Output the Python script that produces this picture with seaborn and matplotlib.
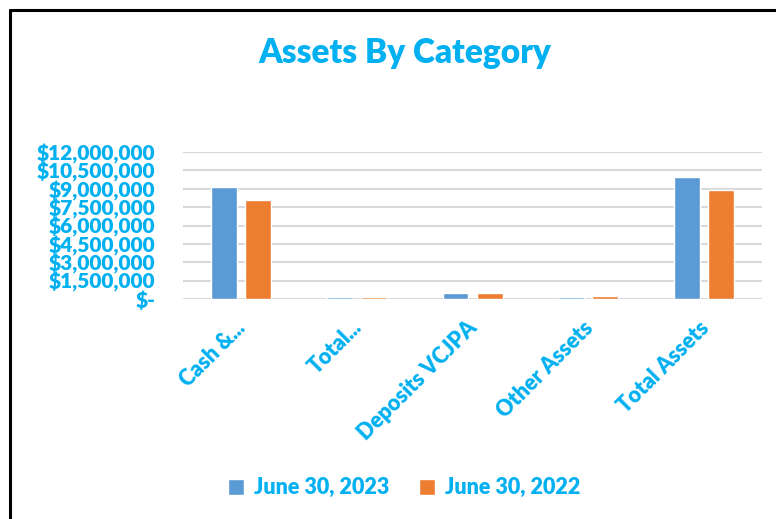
import matplotlib
matplotlib.use("Agg")
import matplotlib.pyplot as plt
import matplotlib.transforms as mtransforms
import seaborn as sns
import pandas as pd
from matplotlib.lines import Line2D
from matplotlib.ticker import FixedLocator

categories = ["Cash &...", "Total...", "Deposits VCJPA", "Other Assets", "Total Assets"]
series_names = ["June 30, 2023", "June 30, 2022"]
values_2023 = [9170000, 130000, 460000, 190000, 9980000]
values_2022 = [8120000, 120000, 450000, 200000, 8920000]
yticks = [0, 1500000, 3000000, 4500000, 6000000, 7500000, 9000000, 10500000, 12000000]
ytick_labels = ["$-", "$1,500,000", "$3,000,000", "$4,500,000", "$6,000,000",
                "$7,500,000", "$9,000,000", "$10,500,000", "$12,000,000"]

df = pd.DataFrame({
    "Category": categories * 2,
    "Series": [series_names[0]] * len(categories) + [series_names[1]] * len(categories),
    "Value": values_2023 + values_2022,
})

sns.set_theme(style="white")
plt.rcParams["font.family"] = ["Lato", "DejaVu Sans"]
BLUE_TXT = "#00B0F0"
W = "heavy"
palette = {series_names[0]: "#5B9BD5", series_names[1]: "#ED7D31"}

fig = plt.figure(figsize=(7.76, 5.19), dpi=100)
ax = fig.add_axes([0.236, 0.424, 0.746, 0.283])
sns.barplot(data=df, x="Category", y="Value", hue="Series", palette=palette,
            width=0.59, gap=0.24, ax=ax, legend=True, saturation=1)

ax.set_ylim(0, 12000000)
ax.yaxis.set_major_locator(FixedLocator(yticks))
ax.set_yticklabels(ytick_labels)
ax.grid(axis="y", color="#D9D9D9", linewidth=1.5)
ax.set_axisbelow(True)
for s in ax.spines.values():
    s.set_visible(False)
ax.set_xlabel("")
ax.set_ylabel("")
ax.tick_params(axis="both", length=0)
ax.tick_params(axis="y", pad=20)
for lbl in ax.get_yticklabels():
    lbl.set_color(BLUE_TXT)
    lbl.set_fontweight(W)
    lbl.set_fontsize(15)
ax.set_xticks(range(len(categories)))
ax.set_xticklabels(categories, rotation=45, ha="right", rotation_mode="anchor",
                   color=BLUE_TXT, fontweight=W, fontsize=15.5)
ax.tick_params(axis="x", pad=13)
offset = mtransforms.ScaledTranslation(-6 / 100, 0, fig.dpi_scale_trans)
for lbl in ax.get_xticklabels():
    lbl.set_transform(lbl.get_transform() + offset)

fig.text(0.522, 0.898, "Assets By Category", ha="center", va="center",
         color=BLUE_TXT, fontweight=W, fontsize=24)

handles, labels = ax.get_legend_handles_labels()
ax.get_legend().remove()
leg = fig.legend(handles, labels, loc="center", bbox_to_anchor=(0.521, 0.06),
                 ncol=2, frameon=False, handlelength=0.75, handleheight=0.75,
                 columnspacing=1.35, handletextpad=0.47,
                 prop={"weight": W, "size": 15.5})
for t in leg.get_texts():
    t.set_color(BLUE_TXT)

fig.add_artist(Line2D([9.5 / 776, 9.5 / 776], [0, 1 - 9.5 / 519], transform=fig.transFigure,
                      color="black", linewidth=2.2))
fig.add_artist(Line2D([9.5 / 776, 1.0], [1 - 9.5 / 519, 1 - 9.5 / 519], transform=fig.transFigure,
                      color="black", linewidth=2.2))

fig.savefig("out.png", dpi=100)
